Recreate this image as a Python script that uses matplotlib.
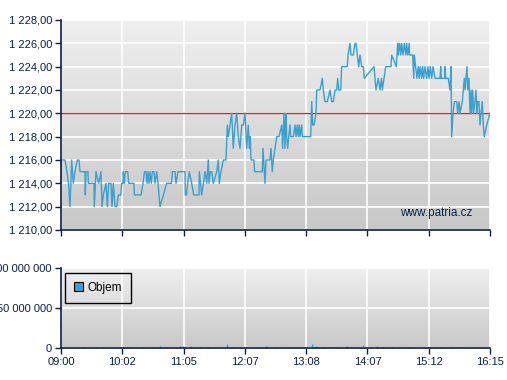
import numpy as np
import matplotlib
matplotlib.use("Agg")
import matplotlib.pyplot as plt
from matplotlib.ticker import FuncFormatter
from matplotlib.colors import LinearSegmentedColormap

# ---- data ----
# session position (0..429) and trade price
t = [0, 0.3, 4, 6, 7.5, 9, 10.7, 12.3, 14, 16.3, 18, 19, 24, 24.3, 25, 27, 27.3, 33, 33.3, 35,
     37.7, 40, 41, 42.3, 45, 46.3, 47.7, 50, 51, 52.3, 54, 55.7, 57.3, 59.7, 60.7, 62, 62.3, 63.3, 64.3, 66.7,
     67.7, 73, 73.3, 80, 82, 83.5, 85, 86, 87, 88, 89, 90.3, 91.3, 93, 94, 95.7, 97, 99, 102.3, 105.7,
     110.5, 111.3, 114, 115, 117, 124, 124.3, 125.5, 126.7, 128.3, 130.7, 132.7, 138, 138.3, 140.7, 142.3, 144, 145.7, 147.3, 148,
     149.3, 150.7, 152.3, 155.7, 157.3, 158.3, 160, 162.3, 165, 166.3, 167.3, 169, 170.7, 172.3, 174, 175.7, 177.3, 179, 180.7, 182.3,
     184, 185.7, 187.3, 188.3, 189.3, 190, 193, 193.5, 201.3, 202, 204, 205, 209, 210, 211.3, 212.3, 214, 215.7,
     218, 220.7, 221.7, 223, 224, 225, 225.7, 226.7, 227.7, 229, 229.7, 232.3, 234, 235, 236.3, 237.3, 238.3, 239, 240.7, 241.3,
     249.7, 250.7, 251.7, 253, 255, 255.7, 259, 261.3, 262.3, 264, 266.3, 269, 270.7, 272.3, 274, 275.7, 276.7, 277.7, 279.7, 280.7,
     286.3, 287, 289, 290, 292.3, 294, 295, 296.3, 297.7, 299, 300.7, 302.3, 303.3, 313, 315, 317.3, 319, 320.5, 321.3, 323,
     324.7, 330, 330.7, 335.3, 336.7, 337.3, 338.7, 339.7, 340.7, 342, 343.3, 344.7, 345.7, 346.7, 348.3, 348.5, 350.7, 351.7, 352.7, 353.3,
     354.7, 356, 357.3, 358.3, 359.3, 360.7, 361.7, 362.7, 364, 365.7, 367, 368, 369.3, 370.7, 372, 374, 379, 379.7, 380.3, 383.7,
     384, 384.7, 387.3, 389, 390, 390.7, 392, 393.3, 395.7, 396.7, 398, 399, 401.3, 403.3, 404, 405, 406, 406.7, 408, 409,
     410, 410.7, 411.7, 412.7, 414, 415, 416, 416.7, 418, 419, 420, 421.3, 422.3, 423.3, 425.7, 429]
price = [1214, 1216, 1216, 1215, 1214, 1212, 1216, 1214, 1215, 1216, 1216, 1215, 1215, 1213, 1215, 1215, 1214, 1214, 1212, 1215,
         1214, 1215, 1212, 1213, 1214, 1212, 1214, 1214, 1212, 1214, 1212, 1212, 1213, 1213, 1214, 1214, 1215, 1214, 1215, 1215,
         1214, 1214, 1213, 1213, 1214, 1215, 1215, 1214, 1215, 1214, 1215, 1214, 1215, 1215, 1214, 1215, 1214, 1212, 1213, 1214,
         1214, 1215, 1215, 1214, 1215, 1215, 1213, 1213, 1214, 1215, 1214, 1213, 1213, 1215, 1213, 1214, 1215, 1214, 1216, 1214,
         1215, 1215, 1214, 1215, 1216, 1214, 1215, 1216, 1216, 1219, 1218, 1219, 1220, 1217, 1219, 1220, 1218, 1217, 1219, 1219,
         1220, 1217, 1219, 1217, 1218, 1216, 1216, 1215, 1215, 1217, 1214, 1216, 1216, 1217, 1215, 1216, 1217, 1218,
         1218, 1219, 1217, 1220, 1217, 1220, 1218, 1217, 1218, 1219, 1218, 1218, 1219, 1218, 1219, 1218, 1219, 1218, 1219, 1218,
         1218, 1221, 1219, 1219, 1220, 1222, 1222, 1223, 1222, 1221, 1221, 1222, 1221, 1221, 1222, 1222, 1223, 1222, 1222, 1224,
         1224, 1225, 1226, 1225, 1225, 1226, 1226, 1225, 1224, 1225, 1224, 1224, 1223, 1224, 1222, 1223, 1222, 1223, 1222, 1223,
         1224, 1224, 1225, 1224, 1226, 1225, 1226, 1225, 1226, 1225, 1226, 1225, 1226, 1225, 1226, 1225, 1225, 1225, 1223, 1225,
         1224, 1223, 1224, 1223, 1224, 1223, 1224, 1223, 1224, 1223, 1224, 1223, 1224, 1223, 1224, 1223, 1223, 1224, 1223, 1223,
         1224, 1223, 1223, 1222, 1224, 1218, 1220, 1221, 1221, 1220, 1221, 1220, 1221, 1223, 1222, 1223, 1224, 1222, 1223, 1220,
         1222, 1220, 1222, 1220, 1221, 1222, 1220, 1221, 1221, 1219, 1220, 1221, 1219, 1218, 1219, 1220]
ref_price = 1220

vol_t = [5.7, 10, 22, 35, 41, 46, 50, 61, 64, 67, 70, 82, 87, 91, 95, 99, 102, 106, 112, 116,
         119, 122, 123, 130, 135, 139, 147, 160, 165.7, 172, 179, 204.7, 214, 219, 222, 225, 251.3, 255, 257, 262,
         275.7, 277, 286, 291, 294, 297, 301.7, 315.7, 322, 325.7, 330.7, 339, 342, 345, 348, 350, 359, 362, 365, 367,
         374, 380, 389, 392, 406, 409, 412, 415, 418, 423]
vol = [1.2, 1.0, 1.5, 0.8, 1.0, 1.0, 1.0, 1.5, 1.2, 1.0, 1.0, 1.0, 1.0, 1.2, 1.0, 2.8, 1.2, 1.0, 1.2, 1.2,
       2.0, 2.8, 1.2, 2.0, 1.2, 1.0, 1.0, 1.2, 5.0, 1.2, 1.0, 2.8, 1.2, 1.2, 1.2, 1.2, 5.2, 2.8, 1.5, 1.0,
       1.2, 1.2, 2.5, 1.2, 1.2, 1.2, 3.2, 2.8, 1.0, 1.0, 1.0, 1.2, 1.2, 1.2, 1.5, 1.0, 1.0, 1.0, 1.2, 1.2,
       1.2, 1.0, 1.0, 1.0, 1.2, 1.2, 1.2, 1.2, 1.2, 1.0]  # millions
x_labels = ["09:00", "10:02", "11:05", "12:07", "13:08", "14:07", "15:12", "16:15"]
price_ticks = [1210, 1212, 1214, 1216, 1218, 1220, 1222, 1224, 1226, 1228]
vol_ticks = [0, 50_000_000, 100_000_000]

# ---- style ----
navy = "#0b1f4f"
line_col = "#3aa0d0"
FS = 8
plt.rcParams["font.family"] = ["Liberation Sans", "DejaVu Sans"]
plt.rcParams["font.size"] = FS

fig = plt.figure(figsize=(5.07, 3.80), dpi=100)
ax1 = fig.add_axes([61/507, 1-230/380, 429/507, 210/380])
ax2 = fig.add_axes([61/507, 1-348/380, 429/507, 80/380])

grad = LinearSegmentedColormap.from_list("g", ["#c8c8c8", "#efefef"])
x_end = 429
xt = np.linspace(0, x_end, len(x_labels))

def style(ax, ylo, yhi, yticks):
    ax.imshow(np.linspace(0, 1, 256).reshape(-1, 1), cmap=grad, aspect="auto",
              extent=[0, x_end, ylo, yhi], origin="lower", zorder=0)
    ax.set_xlim(0, x_end)
    ax.set_ylim(ylo, yhi)
    ax.set_xticks(xt)
    ax.set_yticks(yticks)
    for s in ["top", "right"]:
        ax.spines[s].set_visible(False)
    for s in ["left", "bottom"]:
        ax.spines[s].set_color(navy)
        ax.spines[s].set_linewidth(1.2)
        ax.spines[s].set_zorder(5)
    ax.set_axisbelow(False)
    ax.grid(True, color="white", linewidth=1.2, zorder=1)
    for gl in ax.get_xgridlines() + ax.get_ygridlines():
        gl.set_zorder(1)
    ax.tick_params(direction="out", length=4, width=1, color=navy, labelcolor=navy, labelsize=FS, pad=2.5)

style(ax1, 1210, 1228, price_ticks)
ax1.yaxis.set_major_formatter(FuncFormatter(lambda v, p: f"{v:,.2f}".replace(",", " ").replace(".", ",")))
ax1.set_xticklabels([])
ax1.axhline(ref_price, color="#c03030", linewidth=1, zorder=2.8)
ax1.plot(t, price, color=line_col, linewidth=1, zorder=3)
ax1.text(0.958, 0.081, "www.patria.cz", transform=ax1.transAxes, ha="right", va="center",
         color=navy, fontsize=FS + 0.5, zorder=4)

style(ax2, 0, 100_000_000, vol_ticks)
ax2.yaxis.set_major_formatter(FuncFormatter(lambda v, p: f"{v:,.0f}".replace(",", " ")))
ax2.set_xticklabels(x_labels)
ax2.vlines(vol_t, 0, [v * 1e6 for v in vol], color=line_col, linewidth=1, zorder=3)
h = plt.Rectangle((0, 0), 1, 1, facecolor=line_col, edgecolor="black", linewidth=0.8)
leg = ax2.legend([h], ["Objem"], loc="upper left", bbox_to_anchor=(0.009, 0.94), frameon=True,
                 fancybox=False, facecolor="none", edgecolor="black", fontsize=FS + 0.5,
                 handlelength=0.75, handleheight=0.75, handletextpad=0.45, borderpad=0.75,
                 borderaxespad=0)
leg.get_frame().set_linewidth(1)
leg.get_frame().set_alpha(None)
leg.set_zorder(6)

fig.savefig("out.png", dpi=100)
